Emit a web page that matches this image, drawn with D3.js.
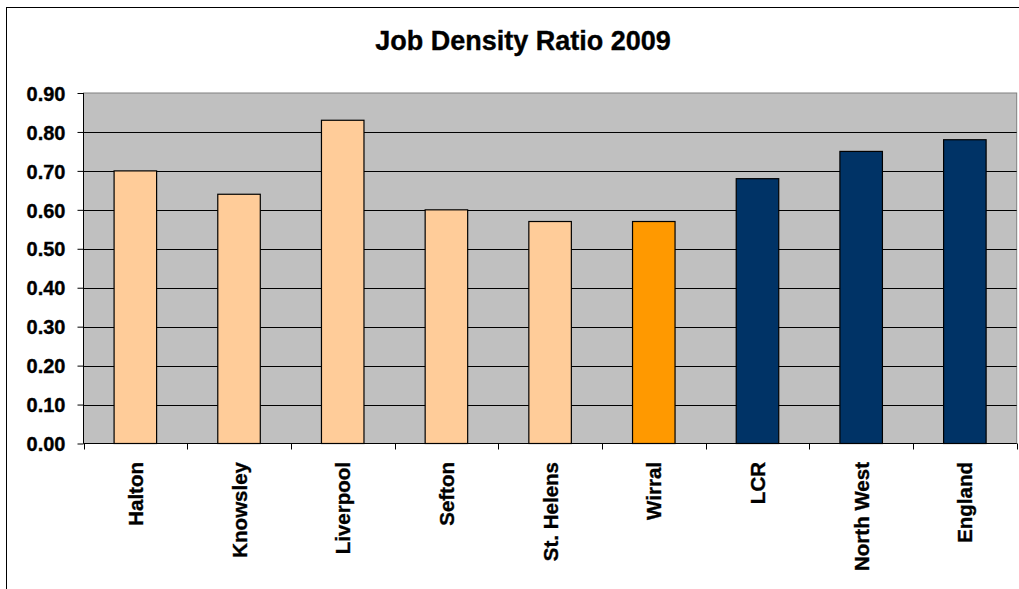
<!DOCTYPE html>
<html><head><meta charset="utf-8">
<script src="https://cdn.jsdelivr.net/npm/d3@7"></script>
<style>
html,body{margin:0;padding:0;background:#fff;overflow:hidden}
text{font-family:"Liberation Sans",Arial,sans-serif;font-weight:bold;fill:#000;stroke:#000;stroke-width:0.35px}
</style></head>
<body>
<svg id="chart" width="1019" height="589"></svg>
<script>
const categories = ["Halton","Knowsley","Liverpool","Sefton","St. Helens","Wirral","LCR","North West","England"];
const values = [0.70,0.64,0.83,0.60,0.57,0.57,0.68,0.75,0.78];
const barColors = ["#FFCC99","#FFCC99","#FFCC99","#FFCC99","#FFCC99","#FF9900","#003366","#003366","#003366"];
const yTicks = [0,0.1,0.2,0.3,0.4,0.5,0.6,0.7,0.8,0.9];
const title = "Job Density Ratio 2009";

const svg = d3.select("#chart");
const L = 83.5, R = 1016.7, T = 93, B = 443.5;

// outer chart border
svg.append("rect").attr("x",6.5).attr("y",7.5).attr("width",1100).attr("height",700)
  .attr("fill","#fff").attr("stroke","#000").attr("stroke-width",1);

const x = d3.scaleBand().domain(categories).range([L,R]).paddingInner(0).paddingOuter(0);
const y = d3.scaleLinear().domain([0,0.9]).range([B,T]);

// plot background
svg.append("rect").attr("x",L).attr("y",T).attr("width",R-L).attr("height",B-T)
  .attr("fill","#C0C0C0").attr("stroke","#808080").attr("stroke-width",1);

// gridlines
svg.append("g").selectAll("line").data(yTicks.filter(d=>d>0 && d<0.9)).join("line")
  .attr("x1",L).attr("x2",R).attr("y1",d=>Math.round(y(d))+0.5).attr("y2",d=>Math.round(y(d))+0.5)
  .attr("stroke","#000").attr("stroke-width",1);

// bars
const bw = x.step()*0.41;
svg.append("g").selectAll("rect").data(categories).join("rect")
  .attr("x",(d)=>x(d)+x.bandwidth()/2-bw/2)
  .attr("y",(d,i)=>y(values[i]))
  .attr("width",bw)
  .attr("height",(d,i)=>B-y(values[i]))
  .attr("fill",(d,i)=>barColors[i])
  .attr("stroke","#000").attr("stroke-width",1.2);

// y axis
const yAxis = d3.axisLeft(y).tickValues(yTicks).tickFormat(d3.format(".2f")).tickSize(6).tickPadding(12);
const gy = svg.append("g").attr("transform",`translate(${L},0)`).call(yAxis);
gy.select(".domain").attr("stroke","#000").attr("d",`M0,${T}V${B}`);
gy.selectAll(".tick line").attr("stroke","#000");
gy.selectAll(".tick text").style("font-size","20px").attr("dy","0.36em");

// x axis
const gx = svg.append("g").attr("transform",`translate(0,${B})`)
  .call(d3.axisBottom(x).tickSize(0).tickFormat(""));
gx.select(".domain").attr("stroke","#000").attr("d",`M${L},0H${R}`);
gx.selectAll(".tick").remove();
// boundary ticks
const bounds = d3.range(categories.length+1).map(i=>L+i*x.step());
svg.append("g").selectAll("line").data(bounds).join("line")
  .attr("x1",d=>Math.round(d)+0.5).attr("x2",d=>Math.round(d)+0.5)
  .attr("y1",B).attr("y2",B+6).attr("stroke","#000");

// category labels
svg.append("g").selectAll("text").data(categories).join("text")
  .attr("transform",d=>`translate(${x(d)+x.bandwidth()/2+7.5},${B+18.5}) rotate(-90)`)
  .attr("text-anchor","end")
  .style("font-size","20.5px")
  .text(d=>d);

// title
svg.append("text").attr("x",523).attr("y",50).attr("text-anchor","middle")
  .style("font-size","27px").text(title);
</script>
</body></html>
